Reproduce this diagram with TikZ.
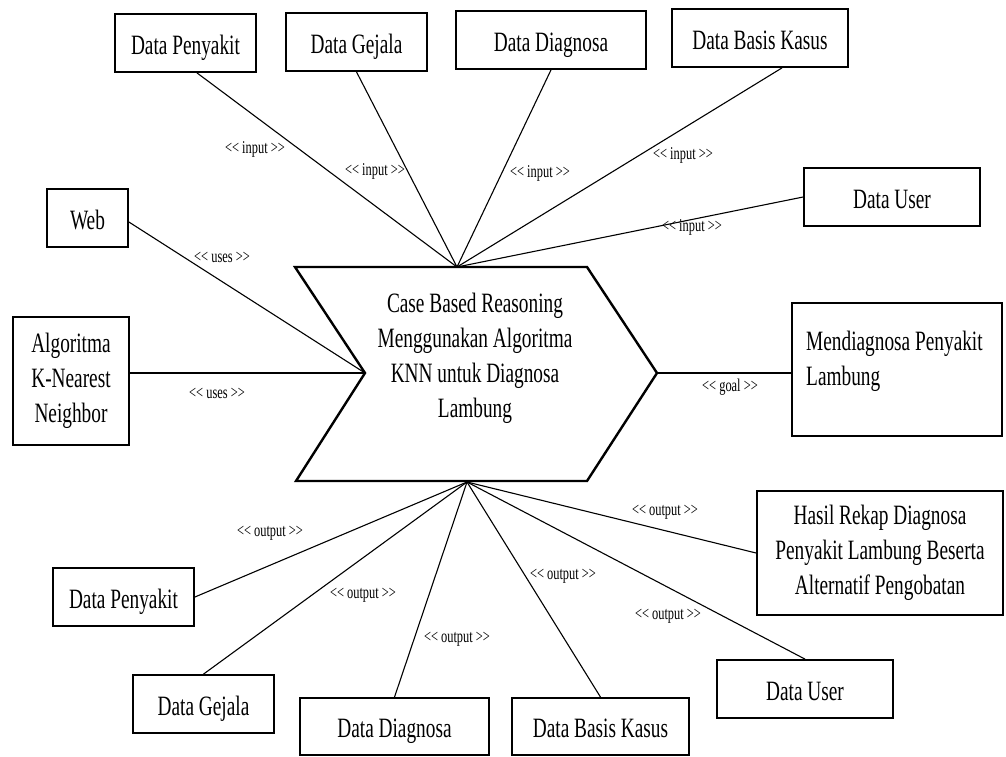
\documentclass[tikz,border=0pt]{standalone}
\usepackage{fontspec}
\setmainfont{Liberation Serif}[FakeStretch=0.69]
\newcommand{\stereo}[1]{<\kern0pt< #1 >\kern0pt>}
\begin{document}
\begin{tikzpicture}[x=1pt,y=-1pt,
  box/.style={draw, line width=1.8pt, inner sep=0pt, font=\fontsize{28}{35}\selectfont, align=center},
  onebox/.style={box, text height=22pt, text depth=0pt},
  link/.style={line width=1.1pt},
  chev/.style={line width=2.4pt, line join=miter},
  lbl/.style={font=\fontsize{18}{20}\selectfont, inner sep=0pt},
  bigtxt/.style={font=\fontsize{28}{35}\selectfont, inner sep=0pt}]
\useasboundingbox (0,0) rectangle (1006,756);

% central process chevron
\coordinate (cTL) at (295,267);
\coordinate (cTR) at (587,267);
\coordinate (cTip) at (657,373);
\coordinate (cBR) at (587,481);
\coordinate (cBL) at (296,481);
\coordinate (cNotch) at (365,373);
\coordinate (cTop) at (457,267);
\coordinate (cBot) at (467,482);
\draw[chev] (cTL) -- (cTR) -- (cTip) -- (cBR) -- (cBL) -- (cNotch) -- cycle;
\node[bigtxt, align=center] (proc) at (475,358)
  {Case Based Reasoning\\Menggunakan Algoritma\\KNN untuk Diagnosa\\Lambung};

% input boxes
\node[onebox, minimum width=141pt, minimum height=58pt] (tp) at (185.5,43) {Data Penyakit};
\node[onebox, minimum width=141pt, minimum height=58pt] (tg) at (356.5,42) {Data Gejala};
\node[onebox, minimum width=190pt, minimum height=58pt] (td) at (551,40) {Data Diagnosa};
\node[onebox, minimum width=176pt, minimum height=58pt] (tb) at (760,38) {Data Basis Kasus};
\node[onebox, minimum width=176pt, minimum height=58pt] (tu) at (892,197) {Data User};

% resources
\node[onebox, minimum width=81pt, minimum height=58pt] (web) at (87.5,218) {Web};
\node[box, minimum width=116pt, minimum height=128pt] (knn) at (71,381)
  {Algoritma\\K-Nearest\\Neighbor};

% goal
\node[box, minimum width=210pt, minimum height=133pt] (goal) at (897,369.5) {};
\node[bigtxt, align=left, anchor=north west] (goaltxt) at (806,331)
  {Mendiagnosa Penyakit\\Lambung};

% outputs
\node[box, minimum width=246pt, minimum height=124pt] (hasil) at (880,553)
  {Hasil Rekap Diagnosa\\Penyakit Lambung Beserta\\Alternatif Pengobatan};
\node[onebox, minimum width=141pt, minimum height=58pt] (bp) at (123.5,597) {Data Penyakit};
\node[onebox, minimum width=141pt, minimum height=58pt] (bg) at (203.5,704) {Data Gejala};
\node[onebox, minimum width=189pt, minimum height=57pt] (bd) at (394.5,726.5) {Data Diagnosa};
\node[onebox, minimum width=177pt, minimum height=57pt] (bb) at (600.5,726.5) {Data Basis Kasus};
\node[onebox, minimum width=176pt, minimum height=58pt] (bu) at (805,689) {Data User};

% connectors
\draw[link] ([xshift=11.5pt]tp.south) -- (cTop);
\draw[link] (tg.south) -- (cTop);
\draw[link] (td.south) -- (cTop);
\draw[link] ([xshift=22pt]tb.south) -- (cTop);
\draw[link] (tu.west) -- (cTop);
\draw[link] ([yshift=-4pt]web.east) -- (cNotch);
\draw[link] (knn.east |- cNotch) -- (cNotch);
\draw[link] (cTip) -- (goal.west |- cTip);
\draw[link] (cBot) -- (bp.east);
\draw[link] (cBot) -- (bg.north);
\draw[link] (cBot) -- (bd.north);
\draw[link] (cBot) -- (bb.north);
\draw[link] (cBot) -- (bu.north);
\draw[link] (cBot) -- (hasil.west);

% stereotype labels
\node[lbl] (li1) at (255,149) {\stereo{input}};
\node[lbl] (li2) at (375,171) {\stereo{input}};
\node[lbl] (li3) at (540,173) {\stereo{input}};
\node[lbl] (li4) at (683,155) {\stereo{input}};
\node[lbl] (li5) at (692,227) {\stereo{input}};
\node[lbl] (lu1) at (222,257) {\stereo{uses}};
\node[lbl] (lu2) at (217,393) {\stereo{uses}};
\node[lbl] (lg) at (730,387) {\stereo{goal}};
\node[lbl] (lo1) at (270,533) {\stereo{output}};
\node[lbl] (lo2) at (363,595) {\stereo{output}};
\node[lbl] (lo3) at (457,639) {\stereo{output}};
\node[lbl] (lo4) at (563,576) {\stereo{output}};
\node[lbl] (lo5) at (665,512) {\stereo{output}};
\node[lbl] (lo6) at (668,616) {\stereo{output}};
\end{tikzpicture}
\end{document}
